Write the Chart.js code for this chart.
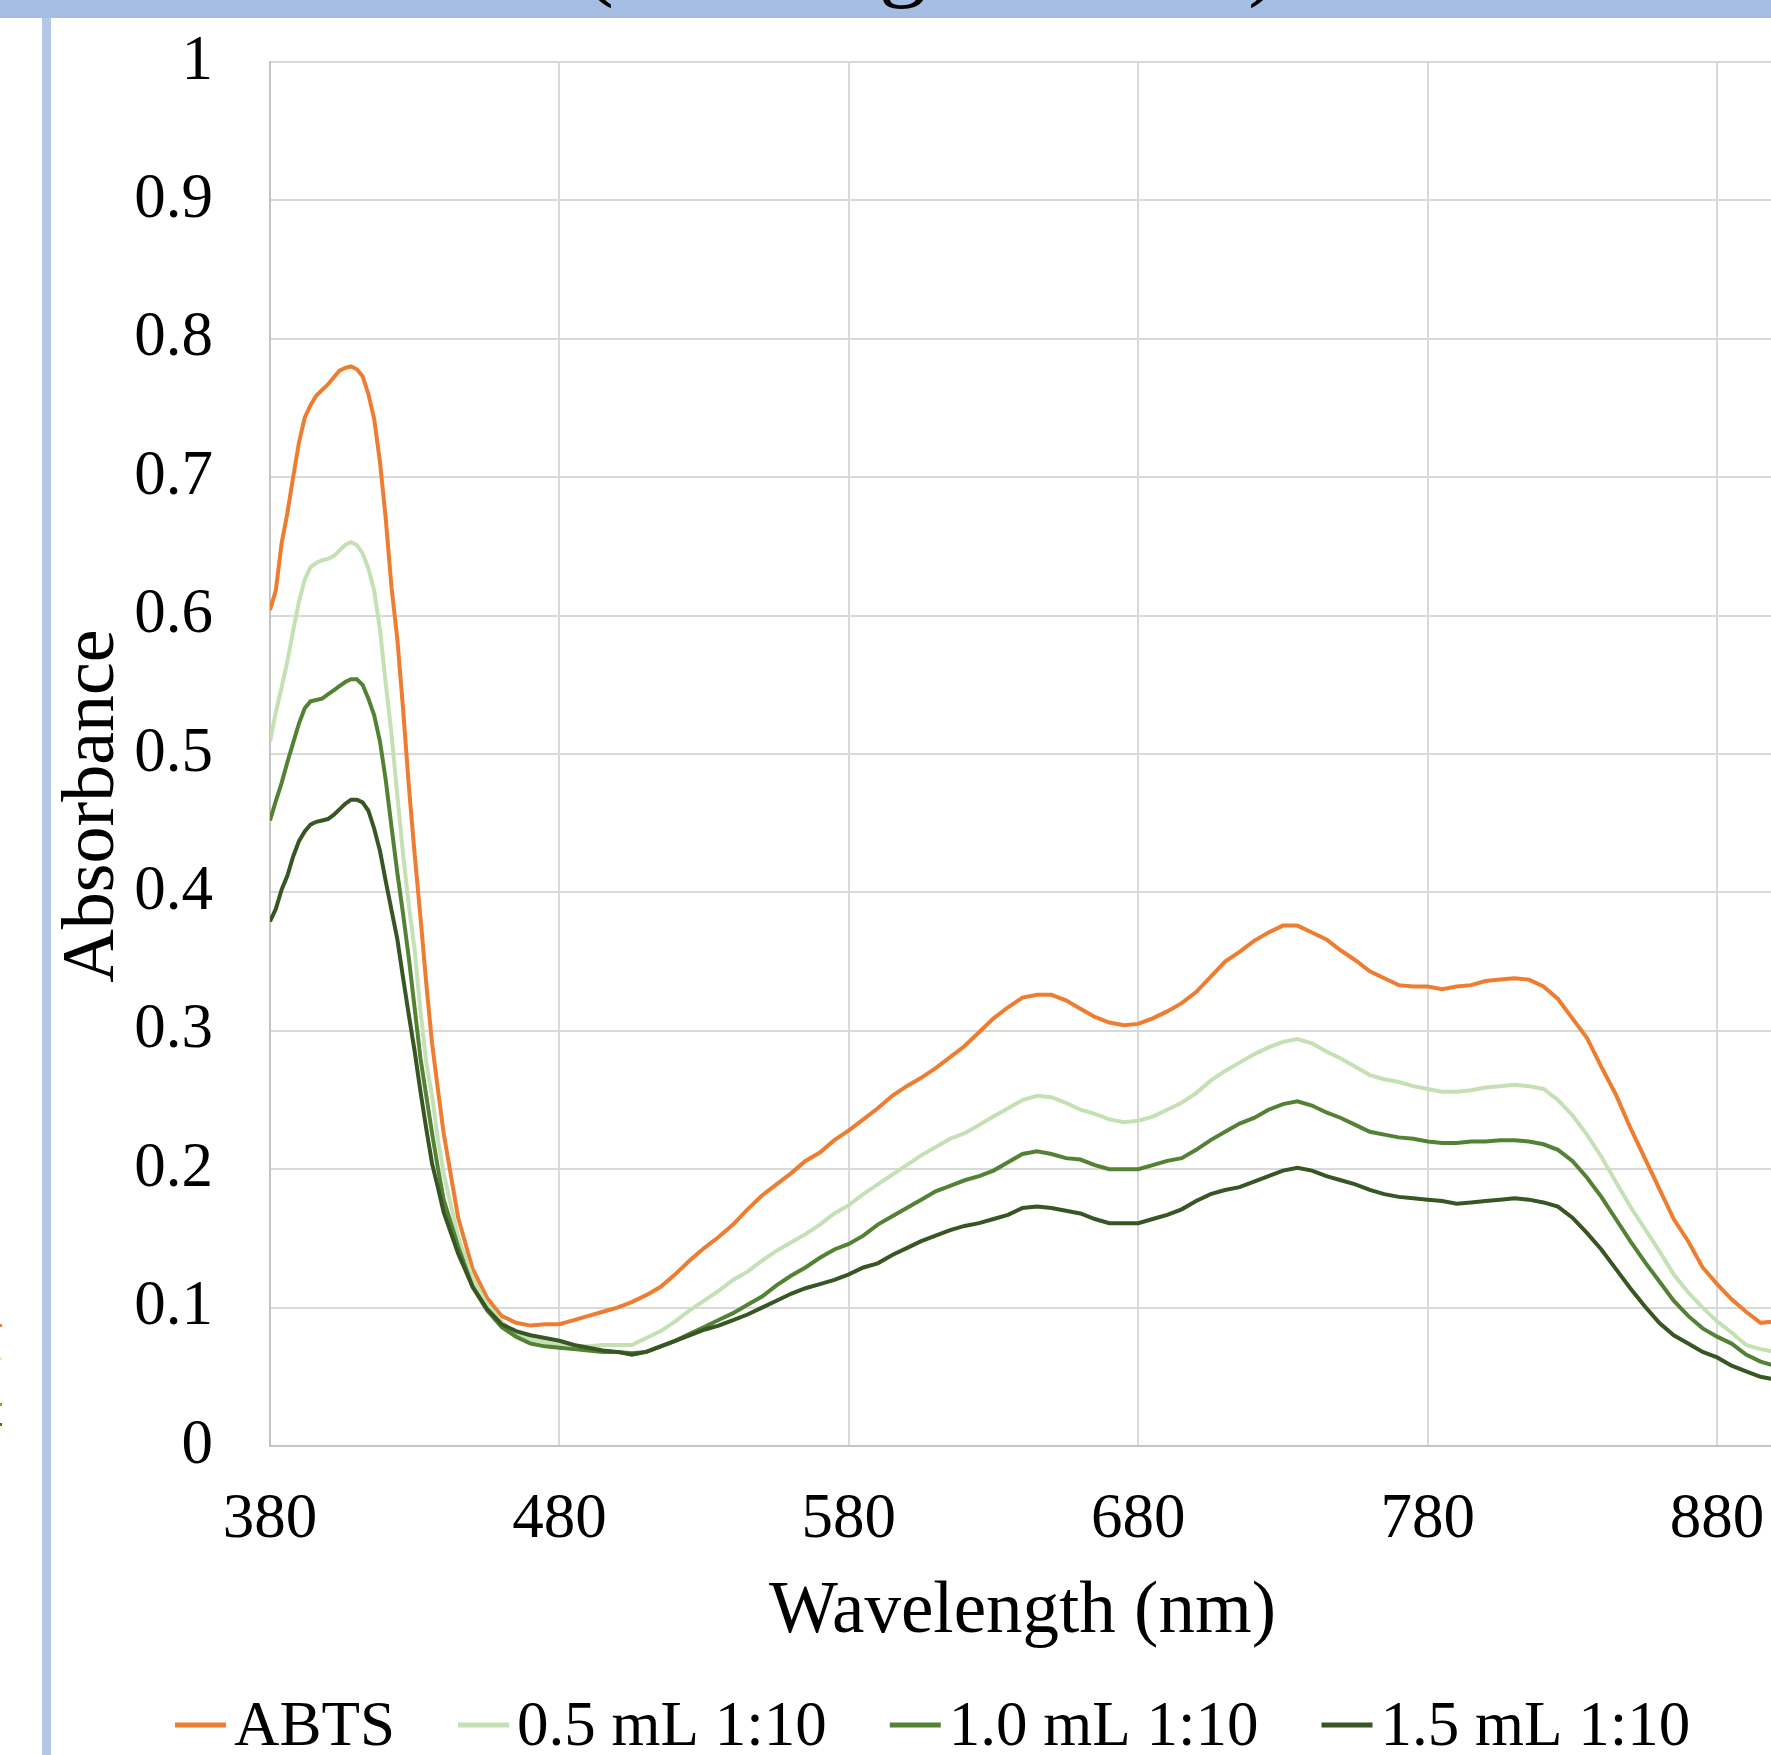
<!DOCTYPE html>
<html><head><meta charset="utf-8">
<script src="https://cdn.jsdelivr.net/npm/chart.js@4.4.1/dist/chart.umd.min.js"></script>
<style>
html,body{margin:0;padding:0;background:#fff;overflow:hidden;width:1771px;height:1755px;}
#wrap{position:absolute;left:0;top:0;width:1900px;height:1755px;}
</style></head><body>
<div id="wrap"><canvas id="c" width="1900" height="1755"></canvas></div>
<script>
// ---------- data ----------
const wavelengths = [
  380,382,384,386,388,390,392,394,396,398,400,402,404,406,408,410,412,414,416,418,420,422,424,426,428,430,432,434,436,438,440,
  445,450,455,460,465,470,475,480,485,490,495,500,505,510,515,520,525,530,535,540,545,550,555,560,565,570,575,580,585,590,595,
  600,605,610,615,620,625,630,635,640,645,650,655,660,665,670,675,680,685,690,695,700,705,710,715,720,725,730,735,740,745,750,
  755,760,765,770,775,780,785,790,795,800,805,810,815,820,825,830,835,840,845,850,855,860,865,870,875,880,885,890,895,900
];
const abts = [
  0.604,0.618,0.652,0.674,0.700,0.725,0.743,0.752,0.759,0.763,0.767,0.772,0.777,0.779,0.780,0.778,0.773,0.760,0.742,0.711,0.670,0.620,0.583,0.532,0.476,0.427,0.382,0.334,0.291,0.258,0.226,
  0.165,0.128,0.107,0.094,0.089,0.087,0.088,0.088,0.091,0.094,0.097,0.100,0.104,0.109,0.115,0.124,0.134,0.143,0.151,0.160,0.171,0.181,0.189,0.197,0.206,0.212,0.221,0.228,0.236,0.244,0.253,
  0.260,0.266,0.273,0.281,0.289,0.299,0.309,0.317,0.324,0.326,0.326,0.322,0.316,0.310,0.306,0.304,0.305,0.309,0.314,0.320,0.328,0.339,0.350,0.357,0.365,0.371,0.376,0.376,0.371,0.366,0.358,
  0.351,0.343,0.338,0.333,0.332,0.332,0.330,0.332,0.333,0.336,0.337,0.338,0.337,0.332,0.323,0.309,0.295,0.274,0.254,0.230,0.208,0.186,0.164,0.148,0.129,0.117,0.106,0.097,0.089,0.090
];
const ml05 = [
  0.509,0.530,0.548,0.567,0.589,0.610,0.626,0.635,0.638,0.640,0.641,0.643,0.647,0.651,0.653,0.651,0.645,0.634,0.618,0.590,0.551,0.514,0.470,0.427,0.390,0.358,0.314,0.277,0.253,0.222,0.197,
  0.151,0.121,0.102,0.090,0.081,0.077,0.075,0.073,0.072,0.072,0.073,0.073,0.073,0.078,0.083,0.090,0.098,0.105,0.112,0.120,0.126,0.134,0.141,0.147,0.153,0.160,0.168,0.174,0.182,0.189,0.196,
  0.203,0.210,0.216,0.222,0.226,0.232,0.238,0.244,0.250,0.253,0.252,0.248,0.243,0.240,0.236,0.234,0.235,0.238,0.243,0.248,0.255,0.264,0.271,0.277,0.283,0.288,0.292,0.294,0.291,0.285,0.280,
  0.274,0.268,0.265,0.263,0.260,0.258,0.256,0.256,0.257,0.259,0.260,0.261,0.260,0.258,0.250,0.239,0.225,0.209,0.191,0.173,0.157,0.141,0.124,0.111,0.100,0.090,0.082,0.073,0.070,0.068
];
const ml10 = [
  0.452,0.466,0.479,0.494,0.508,0.522,0.533,0.538,0.539,0.540,0.543,0.546,0.549,0.552,0.554,0.554,0.550,0.540,0.528,0.509,0.481,0.447,0.414,0.384,0.352,0.316,0.280,0.253,0.226,0.201,0.178,
  0.144,0.115,0.098,0.086,0.079,0.074,0.072,0.071,0.070,0.069,0.068,0.068,0.067,0.068,0.072,0.076,0.081,0.086,0.091,0.096,0.102,0.108,0.116,0.123,0.129,0.136,0.142,0.146,0.152,0.160,0.166,
  0.172,0.178,0.184,0.188,0.192,0.195,0.199,0.205,0.211,0.213,0.211,0.208,0.207,0.203,0.200,0.200,0.200,0.203,0.206,0.208,0.214,0.221,0.227,0.233,0.237,0.243,0.247,0.249,0.246,0.241,0.237,
  0.232,0.227,0.225,0.223,0.222,0.220,0.219,0.219,0.220,0.220,0.221,0.221,0.220,0.218,0.214,0.206,0.194,0.180,0.164,0.148,0.133,0.119,0.105,0.094,0.085,0.079,0.074,0.066,0.061,0.058
];
const ml15 = [
  0.379,0.388,0.402,0.412,0.426,0.437,0.444,0.449,0.451,0.452,0.453,0.456,0.460,0.464,0.467,0.467,0.465,0.459,0.446,0.430,0.408,0.387,0.366,0.338,0.311,0.285,0.256,0.229,0.204,0.187,0.169,
  0.139,0.115,0.099,0.088,0.083,0.080,0.078,0.076,0.073,0.071,0.069,0.068,0.066,0.068,0.072,0.076,0.080,0.084,0.087,0.091,0.095,0.100,0.105,0.110,0.114,0.117,0.120,0.124,0.129,0.132,0.138,
  0.143,0.148,0.152,0.156,0.159,0.161,0.164,0.167,0.172,0.173,0.172,0.170,0.168,0.164,0.161,0.161,0.161,0.164,0.167,0.171,0.177,0.182,0.185,0.187,0.191,0.195,0.199,0.201,0.199,0.195,0.192,
  0.189,0.185,0.182,0.180,0.179,0.178,0.177,0.175,0.176,0.177,0.178,0.179,0.178,0.176,0.173,0.165,0.154,0.142,0.128,0.114,0.101,0.089,0.080,0.074,0.068,0.064,0.058,0.054,0.050,0.048
];
const seriesNames = ['ABTS', '0.5 mL 1:10', '1.0 mL 1:10', '1.5 mL 1:10'];
const seriesValues = [abts, ml05, ml10, ml15];
const xTicks = [380, 480, 580, 680, 780, 880];
const xTitle = 'Wavelength (nm)';
const yTitle = 'Absorbance';

// ---------- styles ----------
const seriesColors = ['#ED7D31', '#C5E0B4', '#548235', '#375623'];
const FONT = '"Liberation Serif", "Times New Roman", serif';
Chart.defaults.font.family = FONT;
Chart.defaults.color = '#000';

const decor = {
  id: 'decor',
  beforeDraw(chart) {
    const ctx = chart.ctx;
    ctx.save();
    ctx.fillStyle = '#fff';
    ctx.fillRect(0, 0, chart.width, chart.height);
    ctx.fillStyle = '#B4C7E7';
    ctx.fillRect(42, 0, 9, chart.height);
    ctx.fillStyle = '#A6BDE3';
    ctx.fillRect(0, 0, chart.width, 18);
    // fragments of a title cropped away above
    ctx.fillStyle = '#000';
    ctx.font = '96px ' + FONT;
    ctx.textBaseline = 'alphabetic';
    ctx.fillText('(', 582, -12);
    ctx.fillText('g', 879, -11);
    ctx.fillText(')', 1248, -12);
    // tiny edge marks from neighbouring figure
    const marks = [[1324, '#ED7D31'], [1357, '#FFE699'], [1403, '#C09000'], [1423, '#7F6000']];
    marks.forEach(m => { ctx.fillStyle = m[1]; ctx.fillRect(0, m[0], 2, 3); });
    ctx.restore();
  },
  afterDraw(chart) {
    const ctx = chart.ctx;
    ctx.save();
    ctx.fillStyle = '#000';
    ctx.font = '74px ' + FONT;
    ctx.textAlign = 'center';
    ctx.textBaseline = 'alphabetic';
    ctx.translate(113, 806);
    ctx.rotate(-Math.PI / 2);
    ctx.fillText(yTitle, 0, 0);
    ctx.restore();
    ctx.save();
    ctx.font = '63px ' + FONT;
    ctx.textBaseline = 'alphabetic';
    ctx.textAlign = 'left';
    let x = 175;
    chart.data.datasets.forEach(ds => {
      ctx.fillStyle = ds.borderColor;
      ctx.fillRect(x, 1722.5, 51, 5);
      x += 59;
      ctx.fillStyle = '#000';
      ctx.fillText(ds.label, x, 1745);
      x += ctx.measureText(ds.label).width + 63;
    });
    ctx.restore();
  }
};

new Chart(document.getElementById('c'), {
  type: 'line',
  data: {
    datasets: seriesNames.map((name, i) => ({
      label: name,
      data: wavelengths.map((w, j) => ({ x: w, y: seriesValues[i][j] })),
      borderColor: seriesColors[i],
      backgroundColor: seriesColors[i],
      borderWidth: 4,
      pointRadius: 0,
      tension: 0,
      fill: false,
      order: seriesNames.length - i
    }))
  },
  options: {
    responsive: false,
    animation: false,
    devicePixelRatio: 1,
    layout: { padding: { top: 62, right: 125, left: 0, bottom: 0 } },
    plugins: { legend: { display: false }, tooltip: { enabled: false } },
    scales: {
      x: {
        type: 'linear', min: 380, max: 900,
        afterBuildTicks: s => { s.ticks = xTicks.map(v => ({ value: v })); },
        afterFit: s => { s.height = 309; s.paddingLeft = 0; s.paddingRight = 0; },
        grid: { color: '#D9D9D9', lineWidth: 2, drawTicks: false },
        border: { color: '#C4C4C4', width: 2 },
        ticks: { font: { size: 63 }, color: '#000', padding: 37, maxRotation: 0, autoSkip: false },
        title: { display: true, text: xTitle, font: { size: 73 }, color: '#000', padding: { top: 0, bottom: 98 } }
      },
      y: {
        min: 0, max: 1,
        afterFit: s => { s.width = 270; s.paddingTop = 0; s.paddingBottom = 0; },
        grid: { color: '#D9D9D9', lineWidth: 2, drawTicks: false },
        border: { color: '#C4C4C4', width: 2 },
        ticks: { stepSize: 0.1, font: { size: 63 }, color: '#000', padding: 57,
                 callback: v => String(Math.round(v * 10) / 10) }
      }
    }
  },
  plugins: [decor]
});
</script>
</body></html>
